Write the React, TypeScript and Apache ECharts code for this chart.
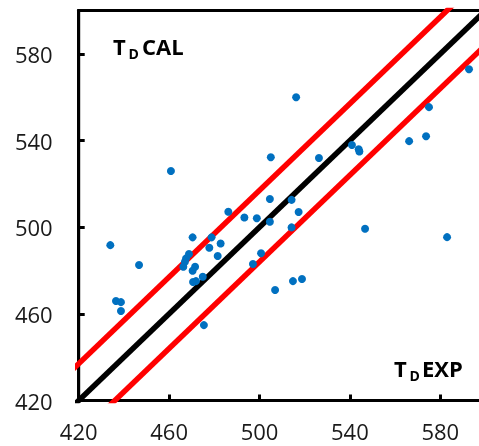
import React, { useEffect, useRef } from "react";
import * as echarts from "echarts";

// T_D EXP (x) vs T_D CAL (y)
const expValues = [
  434, 446.7, 436.5, 438.7, 438.7, 475.4, 460.8, 470.4, 478.8, 482.8,
  477.8, 468.8, 467.5, 467.0, 466.3, 481.5, 471.5, 470.4, 474.9, 470.6,
  471.9, 486.2, 493.3, 498.8, 504.6, 504.6, 505.0, 514.2, 517.3, 514.2,
  497.1, 500.7, 506.9, 514.8, 518.8, 516.2, 526.3, 540.9, 543.9, 544.2,
  546.7, 566.2, 573.7, 575.0, 583.0, 592.7,
];
const calValues = [
  491.7, 482.5, 465.9, 465.4, 461.3, 454.8, 525.9, 495.3, 495.3, 492.5,
  490.5, 487.6, 485.6, 484.0, 481.7, 486.7, 481.7, 479.9, 477.1, 474.7,
  475.1, 507.1, 504.5, 504.1, 513.0, 502.5, 532.3, 512.6, 507.0, 499.9,
  483.0, 488.0, 471.0, 475.1, 476.1, 560.0, 531.9, 537.9, 536.0, 534.9,
  499.3, 539.7, 542.0, 555.4, 495.4, 572.9,
];

const axisMin = 420;
const axisMax = 600;
const tickStep = 40;
// reference lines: y = x + offset
const lineXs = [400, 620];
const idealOffset = 0;
const upperOffset = 17;
const lowerOffset = -16;

export default function App() {
  const ref = useRef<HTMLDivElement>(null);

  useEffect(() => {
    if (!ref.current) return;
    const chart = echarts.init(ref.current, null, { renderer: "svg" });
    const pts = expValues.map((x, i) => [x, calValues[i]]);
    const mkLine = (off: number) => lineXs.map((x) => [x, x + off]);
    const labelFont = {
      fontFamily: "Open Sans",
      fontSize: 22,
      lineHeight: 20,
      color: "#1a1a1a",
    };
    const axisCommon = {
      type: "value" as const,
      min: axisMin,
      max: axisMax,
      interval: tickStep,
      splitLine: { show: false },
      axisLine: { show: true, lineStyle: { color: "#000", width: 3 } },
      axisTick: {
        show: true,
        inside: true,
        length: 6,
        lineStyle: { color: "#000", width: 3 },
      },
    };
    const annot = (x: number, y: number, text: string, size: number) => ({
      type: "text",
      x,
      y,
      z: 100,
      style: {
        text,
        fill: "#000",
        font: `bold ${size}px "Open Sans"`,
        align: "left",
        verticalAlign: "middle",
      },
    });
    chart.setOption({
      animation: false,
      grid: {
        left: 78.7,
        top: 10.5,
        right: 4.5,
        bottom: 45.5,
        show: true,
        borderColor: "#000",
        borderWidth: 3,
        backgroundColor: "transparent",
      },
      xAxis: {
        ...axisCommon,
        axisLabel: { ...labelFont, margin: 20.5, showMaxLabel: false },
      },
      yAxis: {
        ...axisCommon,
        axisLabel: { ...labelFont, margin: 26, showMaxLabel: false },
      },
      series: [
        {
          type: "line",
          data: mkLine(upperOffset),
          symbol: "none",
          clip: true,
          z: 2,
          lineStyle: { color: "#FF0000", width: 5.5 },
        },
        {
          type: "line",
          data: mkLine(lowerOffset),
          symbol: "none",
          clip: true,
          z: 2,
          lineStyle: { color: "#FF0000", width: 5.5 },
        },
        {
          type: "line",
          data: mkLine(idealOffset),
          symbol: "none",
          clip: true,
          z: 2,
          lineStyle: { color: "#000000", width: 5.5 },
        },
        {
          type: "scatter",
          data: pts,
          symbol: "circle",
          symbolSize: 8,
          z: 5,
          itemStyle: { color: "#0070C0", opacity: 1 },
        },
      ],
      graphic: [
        annot(113, 46, "T", 22),
        annot(128.5, 53.5, "D", 14),
        annot(142, 46, "CAL", 22),
        annot(394, 368, "T", 22),
        annot(409.5, 375.5, "D", 14),
        annot(422, 368, "EXP", 22),
      ],
    });
    return () => chart.dispose();
  }, []);

  return (
    <div
      ref={ref}
      style={{ position: "fixed", left: 0, top: 0, width: 490, height: 446 }}
    />
  );
}
